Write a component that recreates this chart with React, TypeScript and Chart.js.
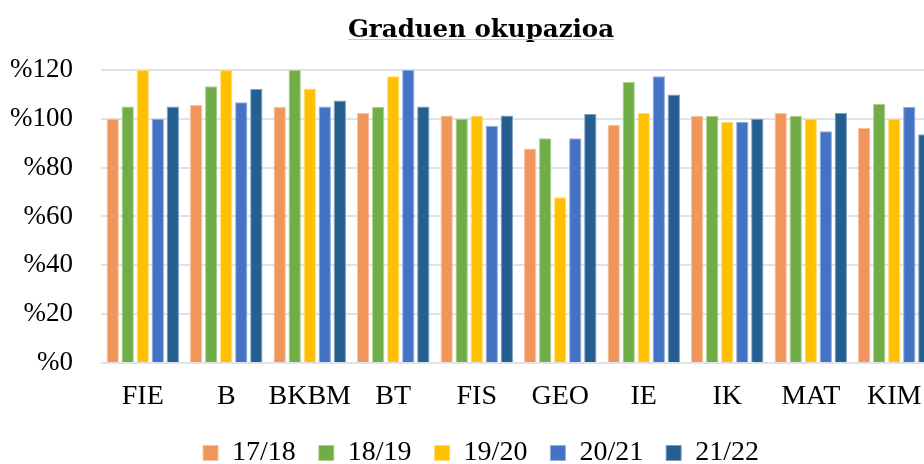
import React, { useEffect, useRef } from "react";
import { Chart, registerables } from "chart.js";

Chart.register(...registerables);

const categories = ["FIE", "B", "BKBM", "BT", "FIS", "GEO", "IE", "IK", "MAT", "KIM"];
const seriesLabels = ["17/18", "18/19", "19/20", "20/21", "21/22"];
const s1718 = [100, 105.6, 104.9, 102.4, 101.3, 87.8, 97.5, 101.2, 102.4, 96.3];
const s1819 = [105, 113.3, 120, 104.9, 100, 92, 115, 101.2, 101.2, 106.1];
const s1920 = [120, 120, 112.4, 117.4, 101.3, 67.9, 102.4, 98.7, 100, 100];
const s2021 = [100, 106.8, 105, 120, 97.1, 92, 117.4, 98.7, 94.9, 104.9];
const s2122 = [105, 112.2, 107.5, 105, 101.3, 101.9, 109.9, 100, 102.4, 93.7];
const yTicks = [0, 20, 40, 60, 80, 100, 120];
const colors = ["#F0965A", "#70AD47", "#FFC000", "#4472C4", "#255E91"];
const borders = ["#F6C3A0", "#ABD08F", "#FFDB73", "#93ADDE", "#7FA0BF"];
const titleText = "Graduen okupazioa";

const W = 962;
const H = 477;

const titleUnderline = {
  id: "titleUnderline",
  afterDraw(chart: any) {
    const tb = chart.titleBlock;
    if (!tb) return;
    const ctx = chart.ctx;
    ctx.save();
    ctx.font = "bold 24.5px 'DejaVu Serif'";
    const w = ctx.measureText(titleText).width;
    const cx = (tb.left + tb.right) / 2;
    const y = Math.round(tb.top + 15.5 + 14.7 + 8.5);
    ctx.strokeStyle = "#F4B4B4";
    ctx.lineWidth = 1;
    ctx.beginPath();
    ctx.moveTo(cx - w / 2, y + 0.5);
    ctx.lineTo(cx + w / 2, y + 0.5);
    ctx.stroke();
    ctx.restore();
  },
};

export default function App() {
  const ref = useRef<HTMLCanvasElement | null>(null);

  useEffect(() => {
    const prevMargin = document.body.style.margin;
    document.body.style.margin = "0";
    const canvas = ref.current;
    if (!canvas) return;
    const values = [s1718, s1819, s1920, s2021, s2122];
    const chart = new Chart(canvas, {
      type: "bar",
      data: {
        labels: categories,
        datasets: seriesLabels.map((label, i) => ({
          label,
          data: values[i],
          backgroundColor: colors[i],
          borderColor: borders[i],
          borderWidth: 1,
          categoryPercentage: 0.9,
          barPercentage: 0.82,
        })),
      },
      plugins: [titleUnderline],
      options: {
        responsive: false,
        maintainAspectRatio: false,
        animation: false,
        layout: { padding: { left: 0, right: 0, top: 0, bottom: 0 } },
        plugins: {
          title: {
            display: true,
            text: titleText,
            color: "#000",
            font: { family: "'DejaVu Serif'", size: 24.5, weight: "bold" },
            padding: { top: 15.5, bottom: 25 },
          },
          legend: {
            position: "bottom",
            labels: {
              color: "#000",
              font: { family: "'Liberation Serif'", size: 28 },
              boxWidth: 15,
              boxHeight: 15,
              padding: 23,
            },
          },
          tooltip: { enabled: false },
        },
        scales: {
          x: {
            grid: { display: false, drawTicks: false, tickLength: 0 },
            border: { display: false },
            afterFit: (s: any) => {
              s.height = 53;
            },
            ticks: {
              color: "#000",
              font: { family: "'Liberation Serif'", size: 28 },
              padding: 17,
              maxRotation: 0,
              autoSkip: false,
            },
          },
          y: {
            min: 0,
            max: 120,
            afterBuildTicks: (s: any) => {
              s.ticks = yTicks.map((v) => ({ value: v }));
            },
            afterFit: (s: any) => {
              s.width = 101;
            },
            grid: { color: "#DFE2E8", lineWidth: 2, drawTicks: false },
            border: { display: false },
            ticks: {
              color: "#000",
              font: { family: "'Liberation Serif'", size: 27 },
              padding: 28,
              callback: (v: any) => "%" + v,
            },
          },
          yR: {
            type: "linear",
            position: "right",
            display: true,
            grid: { display: false, drawTicks: false },
            border: { display: false },
            ticks: { display: false },
            afterFit: (s: any) => {
              s.width = 26;
            },
          },
        },
      },
    });
    return () => {
      chart.destroy();
      document.body.style.margin = prevMargin;
    };
  }, []);

  return (
    <div
      style={{
        position: "fixed",
        left: 0,
        top: 0,
        width: 924,
        height: 464,
        overflow: "hidden",
        background: "#fff",
      }}
    >
      <canvas ref={ref} width={W} height={H} style={{ width: W, height: H, display: "block" }} />
    </div>
  );
}
